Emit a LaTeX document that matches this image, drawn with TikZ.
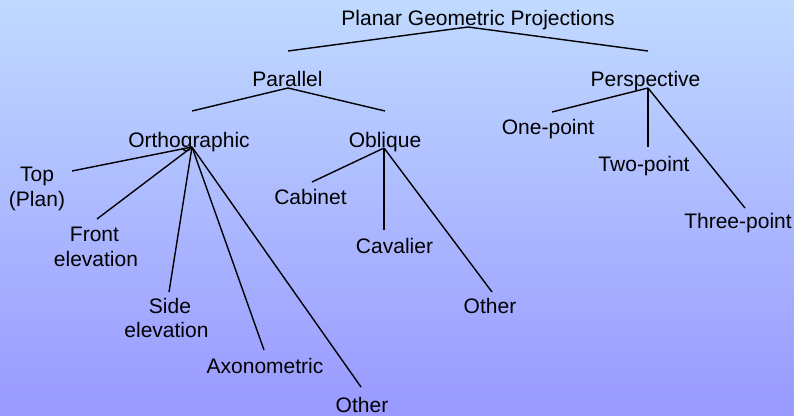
\documentclass[tikz,border=0pt]{standalone}
\usepackage{fontspec}
\setmainfont{Liberation Sans}
\definecolor{bgtop}{RGB}{192,218,255}
\definecolor{bgbot}{RGB}{153,153,255}
\begin{document}
\begin{tikzpicture}[x=1pt,y=-1pt,
  lbl/.style={anchor=base,inner sep=0pt,font=\fontsize{21}{25}\selectfont},
  conn/.style={line width=1.4pt,black}]
\shade[top color=bgtop,bottom color=bgbot] (0,0) rectangle (794,415);
\useasboundingbox (0,0) rectangle (794,415);
% labels
\node[lbl] (root) at (478,25) {Planar Geometric Projections};
\node[lbl] (par) at (287.5,86) {Parallel};
\node[lbl] (per) at (645.5,86) {Perspective};
\node[lbl] (orth) at (189,147) {Orthographic};
\node[lbl] (obl) at (385,147) {Oblique};
\node[lbl] (onep) at (548,134) {One-point};
\node[lbl] (twop) at (644,171) {Two-point};
\node[lbl] (threep) at (738,228) {Three-point};
\node[lbl] (top) at (37,181) {Top};
\node[lbl] (plan) at (37,206) {(Plan)};
\node[lbl] (front) at (94.5,241) {Front};
\node[lbl] (frontb) at (96,266) {elevation};
\node[lbl] (side) at (170,313) {Side};
\node[lbl] (sideb) at (166.5,337) {elevation};
\node[lbl] (axo) at (265,373) {Axonometric};
\node[lbl] (othA) at (362,412) {Other};
\node[lbl] (cab) at (310.5,204) {Cabinet};
\node[lbl] (cav) at (394.5,253) {Cavalier};
\node[lbl] (othB) at (490,313) {Other};
% connector points
\coordinate (rootP) at (468,27);
\coordinate (parT) at (288,51);
\coordinate (perT) at (648,51);
\coordinate (parP) at (288,88);
\coordinate (orthT) at (192,111);
\coordinate (oblT) at (385,111);
\coordinate (perP) at (648,88);
\coordinate (oneE) at (552,112);
\coordinate (twoE) at (648,147);
\coordinate (threeE) at (745,208);
\coordinate (orthP) at (192,147);
\coordinate (topE) at (72,171);
\coordinate (frontE) at (97,219);
\coordinate (sideE) at (169,292);
\coordinate (axoE) at (264,350);
\coordinate (othAE) at (361,387);
\coordinate (oblP) at (384,148);
\coordinate (cabE) at (312,182);
\coordinate (cavE) at (384,230);
\coordinate (othBE) at (492,292);
% connectors
\draw[conn] (parT) -- (rootP) -- (perT);
\draw[conn] (orthT) -- (parP) -- (oblT);
\draw[conn] (perP) -- (oneE);
\draw[conn] (perP) -- (twoE);
\draw[conn] (perP) -- (threeE);
\draw[conn] (orthP) -- (topE);
\draw[conn] (orthP) -- (frontE);
\draw[conn] (orthP) -- (sideE);
\draw[conn] (orthP) -- (axoE);
\draw[conn] (orthP) -- (othAE);
\draw[conn] (oblP) -- (cabE);
\draw[conn] (oblP) -- (cavE);
\draw[conn] (oblP) -- (othBE);
\end{tikzpicture}
\end{document}
